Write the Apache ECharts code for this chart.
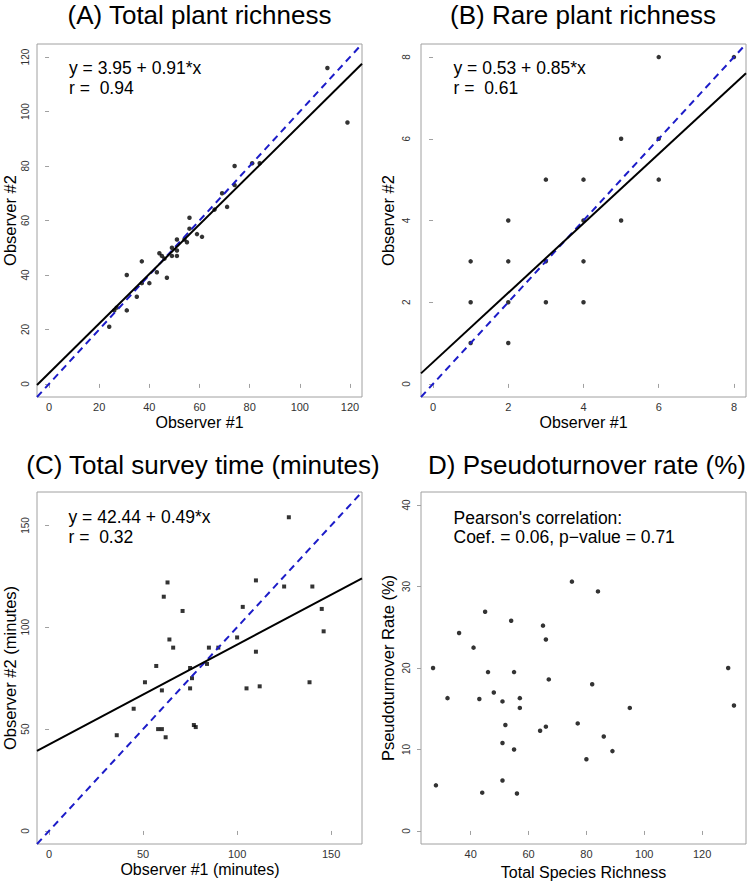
<!DOCTYPE html>
<html><head><meta charset="utf-8">
<script src="https://cdn.jsdelivr.net/npm/echarts@6/dist/echarts.min.js"></script>
<style>html,body{margin:0;padding:0;background:#fff}#c{width:750px;height:882px}</style>
</head><body><div id="c"></div>
<script>
// ---- Panel A: Total plant richness ----
const aObserver1 = [24,26,27,31,31,35,37,37,40,43,44,45,46,47,49,49,51,51,51,54,55,56,56,59,61,66,71,69,74,74,81,84,111,119];
const aObserver2 = [21,27,28,27,40,32,37,45,37,41,48,47,46,39,50,47,49,47,53,53,52,61,57,55,54,64,65,70,73,80,81,81,116,96];
const aFit = [3.95, 0.91];           // intercept, slope
const aTicks = [0,20,40,60,80,100,120];

// ---- Panel B: Rare plant richness ----
const bObserver1 = [1,1,1,2,2,2,2,3,3,3,4,4,4,4,5,5,6,6,6,8];
const bObserver2 = [1,2,3,1,2,3,4,2,3,5,2,3,4,5,4,6,5,6,8,8];
const bFit = [0.53, 0.85];
const bTicks = [0,2,4,6,8];

// ---- Panel C: Total survey time (minutes) ----
const cObserver1 = [36,45,51,57,58,60,60,61,62,63,64,66,71,75,75,76,77,78,84,85,90,100,103,105,110,110,112,125,127.5,138.5,140,145,146];
const cObserver2 = [47,60,73,81,50,50,69,115,46,122,94,90,108,70,80,75,52,51,82,90,90,95,110,70,88,123,71,120,154,73,120,109,98];
const cFit = [42.44, 0.49];
const cTicks = [0,50,100,150];

// ---- Panel D: Pseudoturnover rate (%) ----
const dRichness = [75,84,45,54,65,66,36,41,27,46,55,129,67,82,48,32,43,51,57,57,95,131,52,77,66,64,86,51,55,89,80,51,28,44,56];
const dTurnover = [30.6,29.4,26.9,25.8,25.2,23.5,24.3,22.5,20,19.5,19.5,20,18.6,18,17,16.3,16.2,15.9,16.3,15.1,15.1,15.4,13,13.2,12.8,12.3,11.6,10.8,10,9.8,8.8,6.2,5.6,4.7,4.6];
const dXTicks = [40,60,80,100,120];
const dYTicks = [0,10,20,30,40];

// ---- texts ----
const titles = ['(A) Total plant richness','(B) Rare plant richness','(C) Total survey time (minutes)','D) Pseudoturnover rate (%)'];
const xNames = ['Observer #1','Observer #1','Observer #1 (minutes)','Total Species Richness'];
const yNames = ['Observer #2','Observer #2','Observer #2 (minutes)','Pseudoturnover Rate (%)'];

const F = '"Liberation Sans", Arial, Helvetica, sans-serif';
const BOX = '#a0a0a0';

function zip(xs, ys){ return xs.map((x,i)=>[x, ys[i]]); }

const ranges = [
  {x:[-4.8,124.8], y:[-4.8,124.8]},
  {x:[-0.32,8.32], y:[-0.32,8.32]},
  {x:[-6.4,166.4], y:[-6.4,166.4]},
  {x:[22.84,135.16], y:[-1.6,41.6]}
];
const grids = [
  {left:37, top:44, width:325, height:353},
  {left:421, top:44, width:325, height:353},
  {left:37, top:492, width:325, height:352},
  {left:421, top:492, width:325, height:352}
];
const xt = [aTicks,bTicks,cTicks,dXTicks];
const yt = [aTicks,bTicks,cTicks,dYTicks];
const yMargin = [7,10,7,10];

const option = {
  animation:false,
  backgroundColor:'#fff',
  grid: grids.map(g=>Object.assign({show:true, borderColor:BOX, borderWidth:1, backgroundColor:'transparent'}, g)),
  xAxis: ranges.map((r,i)=>({
    type:'value', gridIndex:i, min:r.x[0], max:r.x[1],
    splitLine:{show:false}, axisLine:{show:false},
    axisTick:{show:true, length:4, lineStyle:{color:BOX}, customValues:xt[i]},
    axisLabel:{customValues:xt[i], fontSize:11, color:'#333', margin:4, fontFamily:F}
  })),
  yAxis: ranges.map((r,i)=>({
    type:'value', gridIndex:i, min:r.y[0], max:r.y[1],
    splitLine:{show:false}, axisLine:{show:false},
    axisTick:{show:true, length:4, lineStyle:{color:BOX}, customValues:yt[i]},
    axisLabel:{customValues:yt[i], fontSize:10, color:'#333', margin:yMargin[i], rotate:90, fontFamily:F}
  })),
  series: [],
  graphic: []
};

const pts = [zip(aObserver1,aObserver2), zip(bObserver1,bObserver2), zip(cObserver1,cObserver2), zip(dRichness,dTurnover)];
const fits = [aFit, bFit, cFit, null];
pts.forEach((d,i)=>{
  option.series.push({type:'scatter', xAxisIndex:i, yAxisIndex:i, data:d,
    symbol: i===2 ? 'rect' : 'circle', symbolSize: i===2 ? 4 : 4.5,
    itemStyle:{color:'#000'}, silent:true});
});
fits.forEach((f,i)=>{
  if(!f) return;
  const x0 = ranges[i].x[0], x1 = ranges[i].x[1];
  option.series.push({type:'line', xAxisIndex:i, yAxisIndex:i, clip:true, symbol:'none', silent:true,
    data:[[x0, x0],[x1, x1]], lineStyle:{color:'#1c1cc8', width:2, type:[7,5]}});
  option.series.push({type:'line', xAxisIndex:i, yAxisIndex:i, clip:true, symbol:'none', silent:true,
    data:[[x0, f[0]+f[1]*x0],[x1, f[0]+f[1]*x1]], lineStyle:{color:'#000', width:2}});
});

function T(x,y,text,size,align,extra){
  return Object.assign({type:'text', x:x, y:y, silent:true,
    style:{text:text, fontSize:size, fontFamily:F, fill:'#000', align:align||'center', verticalAlign:'middle'}}, extra||{});
}
const titlePos = [[199.5,15,'center'],[583,15,'center'],[203,465,'center'],[746,465,'right']];
titles.forEach((t,i)=>option.graphic.push(T(titlePos[i][0], titlePos[i][1], t, 26, titlePos[i][2])));
const xNamePos = [[199.5,422],[583.5,422],[200,869],[583.5,872]];
xNames.forEach((t,i)=>option.graphic.push(T(xNamePos[i][0], xNamePos[i][1], t, 16)));
const yNamePos = [[10,220.5],[388,220.5],[10,668],[388,668]];
yNames.forEach((t,i)=>option.graphic.push(T(yNamePos[i][0], yNamePos[i][1], t, 16.5, 'center', {rotation:Math.PI/2})));

const notes = [
  [69,68,'y = 3.95 + 0.91*x'],[69,88,'r =  0.94'],
  [453.5,68,'y = 0.53 + 0.85*x'],[453.5,88,'r =  0.61'],
  [68.5,517,'y = 42.44 + 0.49*x'],[68.5,536.5,'r =  0.32'],
  [453.5,517.5,"Pearson's correlation:"],[453.5,537,'Coef. = 0.06, p\u2212value = 0.71']
];
notes.forEach(n=>option.graphic.push({type:'text', x:n[0], y:n[1], silent:true,
  style:{text:n[2], fontSize:17.5, fontFamily:F, fill:'#000', align:'left', verticalAlign:'middle'}}));

const chart = echarts.init(document.getElementById('c'), null, {renderer:'svg'});
chart.setOption(option);
</script>
</body></html>
